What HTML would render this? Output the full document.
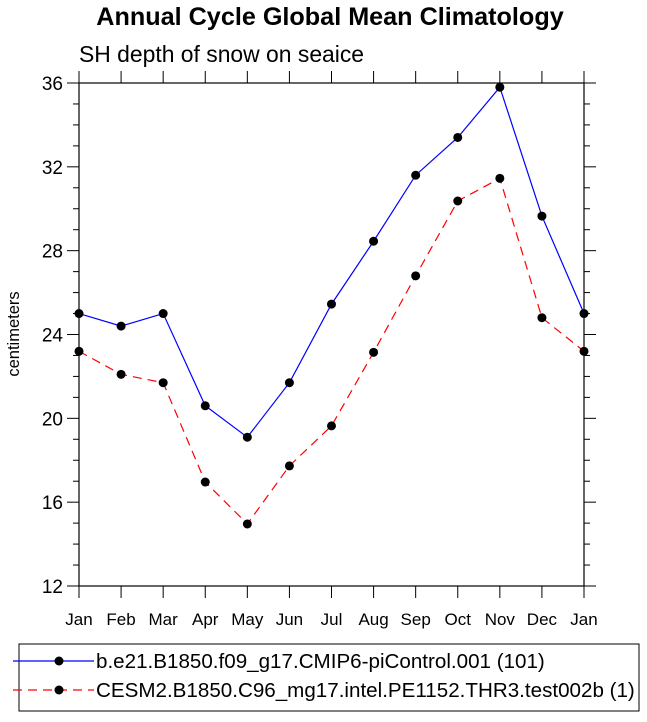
<!DOCTYPE html>
<html><head><meta charset="utf-8"><style>body{margin:0;background:#fff}svg{font-family:"Liberation Sans",Arial,sans-serif}</style></head>
<body>
<svg id="c" width="647" height="717" viewBox="0 0 647 717">
<text x="330" y="25" text-anchor="middle" font-size="25.2" font-weight="bold">Annual Cycle Global Mean Climatology</text>
<text x="79" y="62" font-size="22.9">SH depth of snow on seaice</text>
<text transform="translate(19,334) rotate(-90)" text-anchor="middle" font-size="16.5">centimeters</text>
<g id="axes"></g>
<g id="series"></g>
<rect x="19" y="644" width="620" height="67" fill="none" stroke="#000" stroke-width="1"/>
<g>
<line x1="13" y1="661" x2="94" y2="661" stroke="#00f" stroke-width="1.2"/>
<circle cx="59" cy="661" r="4.5"/>
<text x="96" y="668" font-size="20.6">b.e21.B1850.f09_g17.CMIP6-piControl.001 (101)</text>
</g>
<g>
<line x1="13" y1="690" x2="94" y2="690" stroke="#f00" stroke-width="1.2" stroke-dasharray="9,6"/>
<circle cx="59" cy="690" r="4.5"/>
<text x="96" y="697" font-size="20.6">CESM2.B1850.C96_mg17.intel.PE1152.THR3.test002b (1)</text>
</g>
</svg>
<script>
const months=["Jan","Feb","Mar","Apr","May","Jun","Jul","Aug","Sep","Oct","Nov","Dec","Jan"];
const yTicks=[12,16,20,24,28,32,36];
const blueValues=[25.0,24.4,25.0,20.6,19.1,21.7,25.45,28.45,31.6,33.4,35.8,29.65,25.0];
const redValues=[23.2,22.1,21.7,16.96,14.96,17.73,19.64,23.15,26.8,30.37,31.45,24.8,23.2];
const L=79,R=584,T=83,B=586,ymin=12,ymax=36;
const xs=i=>L+(R-L)*i/(months.length-1);
const ys=v=>B-(v-ymin)/(ymax-ymin)*(B-T);
const NS="http://www.w3.org/2000/svg";
function mk(tag,attrs,parent){const e=document.createElementNS(NS,tag);for(const k in attrs)e.setAttribute(k,attrs[k]);parent.appendChild(e);return e;}
const ax=document.getElementById('axes');
const frame=mk('rect',{x:L,y:T,width:R-L,height:B-T,fill:'none',stroke:'#000','stroke-width':1.2},ax);


for(let v=ymin;v<=ymax;v++){
  const major=(v%4===0);const len=major?12:6;const y=ys(v);
  mk('line',{x1:L-len,y1:y,x2:L,y2:y,stroke:'#000'},ax);
  mk('line',{x1:R,y1:y,x2:R+len,y2:y,stroke:'#000'},ax);
}
yTicks.forEach(v=>{
  const t=mk('text',{x:L-16,y:ys(v)+7,'text-anchor':'end','font-size':19},ax);
  t.textContent=v;
  
  
});
months.forEach((m,i)=>{
  const x=xs(i);
  mk('line',{x1:x,y1:B,x2:x,y2:B+12,stroke:'#000'},ax);
  mk('line',{x1:x,y1:T-12,x2:x,y2:T,stroke:'#000'},ax);
  const t=mk('text',{x:x,y:B+39,'text-anchor':'middle','font-size':17},ax);
  t.textContent=m;
  
  
});
const sg=document.getElementById('series');
function drawSeries(vals,color,dash,name){
  const g=mk('g',{},sg);
  
  
  const pts=vals.map((v,i)=>xs(i)+','+ys(v)).join(' ');
  const a={points:pts,fill:'none',stroke:color,'stroke-width':1.2};
  if(dash)a['stroke-dasharray']=dash;
  mk('polyline',a,g);
  vals.forEach((v,i)=>{
    const c=mk('circle',{cx:xs(i),cy:ys(v),r:4.5,fill:'#000'},g);
    
    
  });
}
drawSeries(blueValues,'#00f',null,'series-piControl');
drawSeries(redValues,'#f00','9,6','series-test002b');
</script>
</body></html>
